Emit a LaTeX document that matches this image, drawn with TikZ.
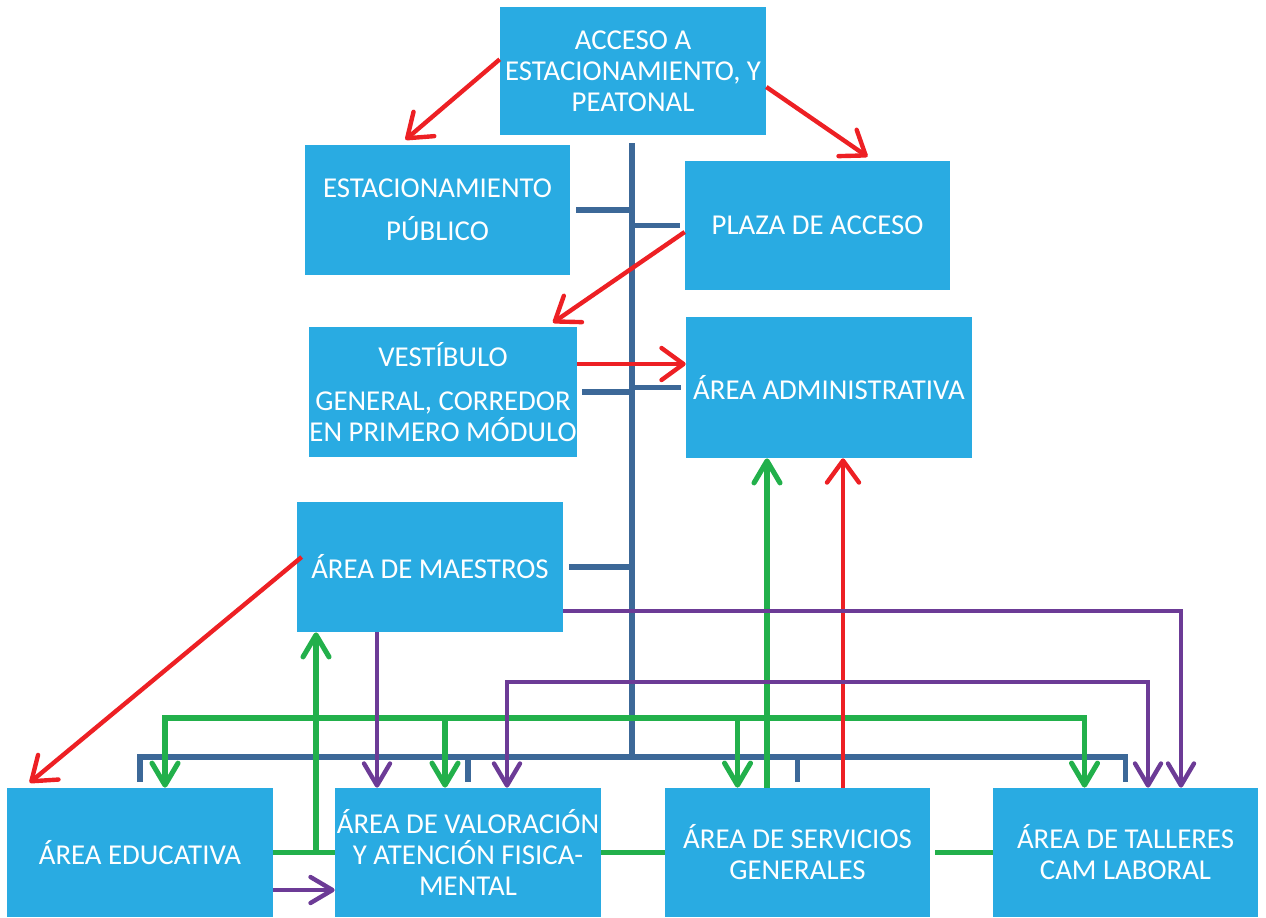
\documentclass[tikz,border=0pt]{standalone}
\usepackage{fontspec}
\setmainfont{Carlito}
\usetikzlibrary{arrows.meta}
\definecolor{boxcyan}{HTML}{29ABE2}
\definecolor{spineblue}{HTML}{3C6898}
\definecolor{arrowred}{HTML}{ED2024}
\definecolor{linegreen}{HTML}{22B04B}
\definecolor{linepurple}{HTML}{6C3B96}

\begin{document}
\begin{tikzpicture}[x=0.02cm, y=-0.02cm, font=\fontsize{16.4}{17.6}\selectfont,
    area/.style={fill=boxcyan, text=white, align=center, inner sep=0pt,
      minimum width=5.32cm, minimum height=2.6cm},
    spine/.style={draw=spineblue, line width=2.9pt},
    redline/.style={draw=arrowred, line width=2.5pt,
      >={Straight Barb[round, length=0.44cm, width=0.64cm]}},
    greenline/.style={draw=linegreen, line width=2.9pt,
      >={Straight Barb[round, length=0.44cm, width=0.52cm]}},
    purpleline/.style={draw=linepurple, line width=2.5pt,
      >={Straight Barb[round, length=0.44cm, width=0.52cm]}}]
    \useasboundingbox (0,0) rectangle (1266,917);

    % areas
    \node[area, minimum height=2.56cm] (acceso) at (633,71) {ACCESO A\\ESTACIONAMIENTO, Y\\PEATONAL};
    \node[area] (estac) at (437.5,210) {ESTACIONAMIENTO\\[6.8pt]PÚBLICO};
    \node[area, minimum width=5.3cm, minimum height=2.58cm] (plaza) at (817.5,225.5) {PLAZA DE ACCESO};
    \node[area] (vest) at (443,392) {VESTÍBULO\\[7.4pt]GENERAL, CORREDOR\\EN PRIMERO MÓDULO};
    \node[area, minimum width=5.72cm, minimum height=2.82cm] (admin) at (829,387.5) {ÁREA ADMINISTRATIVA};
    \node[area] (maestros) at (430,567) {ÁREA DE MAESTROS};
    \node[area, minimum height=2.58cm] (educ) at (140,852.5) {ÁREA EDUCATIVA};
    \node[area, minimum height=2.58cm] (valor) at (468,852.5) {ÁREA DE VALORACIÓN\\Y ATENCIÓN FISICA-\\MENTAL};
    \node[area, minimum width=5.3cm, minimum height=2.58cm] (serv) at (797.5,852.5) {ÁREA DE SERVICIOS\\GENERALES};
    \node[area, minimum width=5.3cm, minimum height=2.58cm] (taller) at (1125.5,852.5) {ÁREA DE TALLERES\\CAM LABORAL};

    % blue spine and bus
    \coordinate (spinetop) at (632,143);
    \coordinate (hub) at (632,757);
    \draw[spine] (spinetop) -- (hub);
    \draw[spine] ([yshift=0.12cm]educ.north) |- (hub) -| ([yshift=0.12cm]taller.north);
    \foreach \n in {valor,serv}
      \draw[spine] (\n.north |- hub) -- ([yshift=0.12cm]\n.north);
    \foreach \n in {estac,vest,maestros}
      \draw[spine] ([xshift=0.11cm]\n.east) -- (\n.east -| hub);
    \foreach \n in {plaza,admin}
      \draw[spine] (\n.west -| hub) -- ([xshift=-0.1cm]\n.west);

    % green links
    \coordinate (gbus) at (632,718);
    \coordinate (g1) at ([xshift=0.5cm]educ.north);
    \coordinate (g2) at ([xshift=-0.46cm]valor.north);
    \coordinate (g3) at ([xshift=-1.2cm]serv.north);
    \coordinate (g4) at ([xshift=-0.82cm]taller.north);
    \draw[greenline, <->] (g1) |- (gbus) -| (g4);
    \foreach \g in {g2,g3}
      \draw[greenline, ->] (\g |- gbus) -- (\g);
    \draw[greenline] (educ.east) -- (valor.west);
    \coordinate (gm) at ([xshift=-2.28cm]maestros.south);
    \draw[greenline, ->] (gm |- educ.east) -- (gm);
    \draw[greenline] (valor.east) -- (serv.west);
    \draw[greenline, shorten <=0.1cm] (serv.east) -- (taller.west);
    \coordinate (gs) at ([xshift=-0.61cm]serv.north);
    \draw[greenline, ->] (gs) -- (gs |- admin.south);

    % red links
    \draw[redline, ->] (acceso.175) -- ([xshift=-0.64cm, yshift=0.1cm]estac.north);
    \draw[redline, ->] ([yshift=-0.32cm]acceso.east) -- ([xshift=1.0cm, yshift=0.08cm]plaza.north);
    \draw[redline, ->] ([yshift=-0.13cm]plaza.west) -- ([xshift=2.2cm, yshift=0.08cm]vest.north);
    \draw[redline, ->] ([yshift=0.56cm]vest.east) coordinate (vr) -- (vr -| admin.west);
    \draw[redline, ->] ([xshift=0.1cm, yshift=0.2cm]maestros.west) -- ([xshift=0.46cm, yshift=0.1cm]educ.north west);
    \coordinate (rs) at ([xshift=0.91cm]serv.north);
    \draw[redline, ->] (rs) -- (rs |- admin.south);

    % purple links
    \draw[purpleline, ->] ([yshift=-0.75cm]educ.east) coordinate (pe) -- (pe -| valor.west);
    \coordinate (pm) at ([xshift=-1.06cm]maestros.south);
    \draw[purpleline, ->] (pm) -- (pm |- valor.north);
    \coordinate (pbus) at (632,682);
    \coordinate (p1) at ([xshift=0.78cm]valor.north);
    \coordinate (p2) at ([xshift=0.45cm]taller.north);
    \draw[purpleline, <->] (p1) |- (pbus) -| (p2);
    \coordinate (p3) at ([xshift=1.11cm]taller.north);
    \draw[purpleline, ->] ([yshift=-0.88cm]maestros.east) -| (p3);
  \end{tikzpicture}
\end{document}
